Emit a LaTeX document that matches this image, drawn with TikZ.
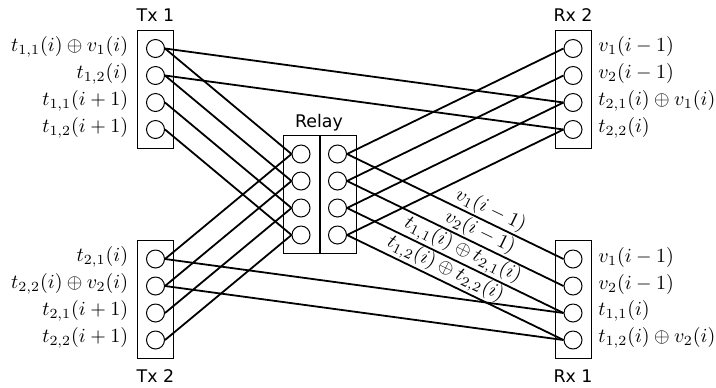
\documentclass[tikz,border=0pt]{standalone}
\usepackage{fontspec}
\setsansfont{DejaVu Sans}
\begin{document}
\begin{tikzpicture}[x=0.5pt,y=-0.5pt,
  port/.style={circle, draw, line width=0.5pt, minimum size=9pt, inner sep=0pt},
  frame/.style={draw, line width=0.5pt, minimum width=18pt, minimum height=59pt, inner sep=0pt},
  link/.style={line width=0.9pt},
  title/.style={font=\sffamily\fontsize{8.7}{10}\selectfont, inner sep=0pt},
  lbl/.style={inner sep=0pt},
  slbl/.style={sloped, anchor=south, inner sep=0.6pt}]
\useasboundingbox (0,0) rectangle (716,387);

% frames
\node[frame] (tx1) at (155.5,89) {};
\node[frame] (tx2) at (155.5,299.5) {};
\node[frame] (rx2) at (573,89) {};
\node[frame] (rx1) at (573,299.5) {};
\node[frame] (rl) at (301,194.5) {};
\node[frame] (rr) at (338,194.5) {};

% titles
\node[title] (ttx1) at (155.5,15) {Tx 1};
\node[title] (ttx2) at (155.5,376) {Tx 2};
\node[title] (trl) at (319,123) {Relay};
\node[title] (trx2) at (573,15) {Rx 2};
\node[title] (trx1) at (573,376) {Rx 1};

% ports
\foreach \k/\d in {1/-40.5,2/-13.5,3/13.5,4/40.5}{
  \node[port] (tx1c\k) at (155.5,89+\d) {};
  \node[port] (rx2c\k) at (573,89+\d) {};
  \node[port] (tx2c\k) at (155.5,299.5+\d) {};
  \node[port] (rx1c\k) at (573,299.5+\d) {};
  \node[port] (rlc\k) at (301,194.5+\d) {};
  \node[port] (rrc\k) at (337.5,194.5+\d) {};
}

% port labels
\node[lbl, anchor=east] (l11) at (128.5,46.5) {$t_{1,1}(i)\oplus v_1(i)$};
\node[lbl, anchor=east] (l12) at (128.5,73.5) {$t_{1,2}(i)$};
\node[lbl, anchor=east] (l13) at (128.5,100.5) {$t_{1,1}(i+1)$};
\node[lbl, anchor=east] (l14) at (128.5,127.5) {$t_{1,2}(i+1)$};
\node[lbl, anchor=east] (l21) at (128.5,257) {$t_{2,1}(i)$};
\node[lbl, anchor=east] (l22) at (128.5,284) {$t_{2,2}(i)\oplus v_2(i)$};
\node[lbl, anchor=east] (l23) at (128.5,311) {$t_{2,1}(i+1)$};
\node[lbl, anchor=east] (l24) at (128.5,338) {$t_{2,2}(i+1)$};
\node[lbl, anchor=west] (r21) at (598,46.5) {$v_1(i-1)$};
\node[lbl, anchor=west] (r22) at (598,73.5) {$v_2(i-1)$};
\node[lbl, anchor=west] (r23) at (598,100.5) {$t_{2,1}(i)\oplus v_1(i)$};
\node[lbl, anchor=west] (r24) at (598,127.5) {$t_{2,2}(i)$};
\node[lbl, anchor=west] (r11) at (598,257) {$v_1(i-1)$};
\node[lbl, anchor=west] (r12) at (598,284) {$v_2(i-1)$};
\node[lbl, anchor=west] (r13) at (598,311) {$t_{1,1}(i)$};
\node[lbl, anchor=west] (r14) at (598,338) {$t_{1,2}(i)\oplus v_2(i)$};

% transmitters to relay, relay to receivers
\foreach \k in {1,...,4}{
  \draw[link] (tx1c\k.east) -- (rlc\k.west);
  \draw[link] (tx2c\k.east) -- (rlc\k.west);
  \draw[link] (rrc\k.east) -- (rx2c\k.west);
}
% direct side links
\draw[link] (tx1c1.east) -- (rx2c3.west);
\draw[link] (tx1c2.east) -- (rx2c4.west);
\draw[link] (tx2c1.east) -- (rx1c3.west);
\draw[link] (tx2c2.east) -- (rx1c4.west);

% relay to Rx 1 with labels
\draw[link] (rrc1.east) -- node[slbl, pos=0.64] {$v_1(i-1)$} (rx1c1.west);
\draw[link] (rrc2.east) -- node[slbl, pos=0.59] {$v_2(i-1)$} (rx1c2.west);
\draw[link] (rrc3.east) -- node[slbl, pos=0.51] {$t_{1,1}(i)\oplus t_{2,1}(i)$} (rx1c3.west);
\draw[link] (rrc4.east) -- node[slbl, pos=0.43] {$t_{1,2}(i)\oplus t_{2,2}(i)$} (rx1c4.west);
\end{tikzpicture}
\end{document}
